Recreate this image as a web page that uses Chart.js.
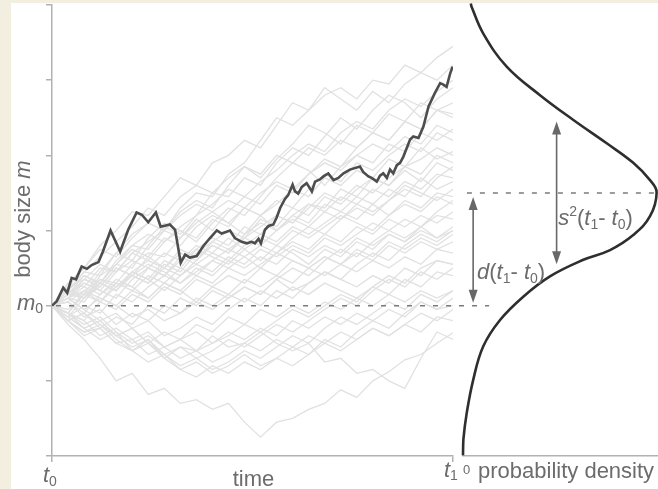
<!DOCTYPE html>
<html>
<head>
<meta charset="utf-8">
<script src="https://cdn.jsdelivr.net/npm/chart.js@4.4.1/dist/chart.umd.min.js"></script>
<style>
  html, body { margin: 0; padding: 0; background: #fff; }
  #wrap { position: relative; width: 658px; height: 489px; background: #fff; overflow: hidden; }
  #stripLeft { position: absolute; left: 0; top: 0; width: 11px; height: 489px; background: #f2efe1; }
  #stripTop { position: absolute; left: 0; top: 0; width: 658px; height: 3px; background: #f2efe1; }
  canvas { position: absolute; left: 0; top: 0; }
</style>
</head>
<body>
<div id="wrap">
  <div id="stripLeft"></div>
  <div id="stripTop"></div>
  <canvas id="paths" width="658" height="489"></canvas>
  <canvas id="density" width="658" height="489"></canvas>
</div>
<script>
// time grid for the simulated lineages (t0 = 0, t1 = 100)
const timeSteps = [0,4,8,12,16,20,24,28,32,36,40,44,48,52,56,60,64,68,72,76,80,84,88,92,96,100];

// the highlighted lineage
const focalTime = [0,1.2,2.8,3.8,4.9,6.0,7.4,8.7,9.9,11.6,12.7,14.6,17.0,19.0,21.1,22.4,24.0,25.9,27.1,29.4,30.7,32.1,33.2,34.4,36.1,37.7,39.4,41.1,42.3,44.4,45.6,47.3,48.6,49.8,50.6,51.5,52.1,53.1,54.0,55.2,56.0,56.9,58.1,58.9,60.0,60.6,61.4,62.3,63.5,64.8,65.6,66.8,67.7,68.9,70.2,71.4,72.7,74.3,76.8,77.6,78.9,79.7,81.0,81.8,82.6,83.5,84.3,85.1,86.0,86.8,87.6,89.3,90.1,91.4,92.6,93.9,95.5,96.8,97.6,98.4,99.3,99.9];
const focalSize = [0,0.06,0.24,0.17,0.37,0.35,0.52,0.49,0.54,0.58,0.72,1.00,0.72,1.01,1.24,1.21,1.11,1.24,1.05,1.08,1.01,0.57,0.68,0.64,0.66,0.79,0.90,1.00,0.96,1.00,0.90,0.85,0.83,0.85,0.83,0.89,0.83,1.01,1.06,1.08,1.17,1.30,1.42,1.47,1.61,1.52,1.49,1.58,1.63,1.52,1.65,1.68,1.72,1.76,1.67,1.70,1.76,1.81,1.85,1.78,1.72,1.70,1.65,1.73,1.76,1.70,1.81,1.76,1.87,1.90,1.98,2.21,2.25,2.23,2.38,2.65,2.83,2.96,2.94,2.91,3.09,3.18];

// the other lineages (body size at each time step)
const lineage01 = [0,0.3,0.5,0.8,1.0,1.25,1.2,1.45,1.7,1.6,1.9,2.0,2.2,2.1,2.4,2.7,2.6,2.8,2.9,2.75,3.0,2.95,3.2,3.1,3.3,3.45];
const lineage02 = [0,0.2,0.45,0.4,0.7,0.95,1.1,1.0,1.3,1.5,1.45,1.75,1.9,2.2,2.5,2.4,2.6,2.9,2.75,2.6,2.85,2.7,2.95,3.1,3.0,3.2];
const lineage03 = [0,0.15,0.1,0.4,0.55,0.5,0.8,1.05,0.95,1.2,1.5,1.45,1.7,1.6,1.9,2.1,2.0,2.25,2.5,2.35,2.6,2.8,2.7,2.5,2.75,2.9];
const lineage04 = [0,0.25,0.35,0.3,0.6,0.8,0.75,1.0,1.25,1.4,1.3,1.6,1.85,1.7,1.95,2.15,2.4,2.3,2.15,2.4,2.3,2.55,2.45,2.7,2.6,2.7];
const lineage05 = [0,-0.1,0.2,0.35,0.3,0.55,0.7,0.65,0.9,1.15,1.0,1.25,1.45,1.35,1.6,1.5,1.75,1.95,1.85,2.1,2.3,2.2,2.45,2.35,2.6,2.5];
const lineage06 = [0,0.2,0.15,0.45,0.7,0.6,0.9,1.1,1.0,0.85,1.1,1.3,1.2,1.45,1.7,1.9,1.8,1.6,1.85,2.0,1.9,2.15,2.05,2.3,2.2,2.35];
const lineage07 = [0,0.1,0.35,0.25,0.5,0.4,0.65,0.9,0.8,1.05,1.2,1.1,0.95,1.2,1.4,1.3,1.55,1.75,1.65,1.9,1.8,2.0,2.15,2.05,2.3,2.2];
const lineage08 = [0,0.3,0.25,0.5,0.45,0.7,0.6,0.85,1.0,0.9,1.15,1.05,1.3,1.2,1.35,1.55,1.45,1.7,1.6,1.8,1.7,1.95,1.85,2.1,1.95,2.05];
const lineage09 = [0,-0.15,0.1,0.3,0.2,0.45,0.35,0.6,0.5,0.75,0.9,0.8,1.05,0.95,1.2,1.1,1.35,1.3,1.55,1.45,1.7,1.6,1.85,1.75,2.0,1.9];
const lineage10 = [0,0.15,0.4,0.3,0.55,0.75,0.65,0.5,0.7,0.6,0.85,1.0,0.9,1.15,1.05,1.3,1.2,1.45,1.35,1.55,1.7,1.6,1.8,1.65,1.9,1.8];
const lineage11 = [0,0.1,0.05,0.3,0.2,0.45,0.6,0.5,0.75,0.65,0.8,0.7,0.95,1.1,1.0,1.2,1.1,1.35,1.25,1.45,1.35,1.55,1.45,1.7,1.55,1.65];
const lineage12 = [0,0.2,0.1,0.25,0.5,0.4,0.3,0.55,0.45,0.7,0.85,0.75,0.9,0.8,1.0,1.15,1.05,1.25,1.15,1.35,1.25,1.4,1.6,1.5,1.4,1.55];
const lineage13 = [0,-0.1,0.15,0.05,0.3,0.25,0.5,0.4,0.65,0.55,0.7,0.6,0.8,0.95,0.85,1.05,0.95,1.1,1.25,1.15,1.35,1.2,1.4,1.3,1.5,1.45];
const lineage14 = [0,0.15,0.3,0.2,0.1,0.35,0.5,0.4,0.6,0.75,0.65,0.55,0.75,0.9,0.8,1.0,0.9,1.05,1.2,1.1,1.0,1.2,1.35,1.25,1.45,1.35];
const lineage15 = [0,0.05,-0.1,0.15,0.3,0.2,0.4,0.3,0.5,0.4,0.6,0.75,0.65,0.5,0.7,0.85,0.75,0.95,0.85,1.05,0.95,1.15,1.05,1.2,1.1,1.25];
const lineage16 = [0,0.2,0.1,0.35,0.25,0.45,0.35,0.2,0.4,0.55,0.45,0.65,0.55,0.75,0.65,0.8,0.7,0.9,0.8,0.95,1.1,1.0,0.9,1.05,1.2,1.15];
const lineage17 = [0,-0.15,0.0,-0.1,0.15,0.05,0.25,0.4,0.3,0.5,0.4,0.6,0.5,0.65,0.55,0.75,0.65,0.8,0.7,0.9,0.8,0.95,0.85,1.0,0.9,1.05];
const lineage18 = [0,0.1,0.25,0.15,0.35,0.25,0.1,0.3,0.2,0.4,0.3,0.5,0.4,0.55,0.7,0.6,0.5,0.65,0.55,0.75,0.65,0.85,0.75,0.9,0.8,0.95];
const lineage19 = [0,-0.1,-0.2,0.05,-0.05,0.15,0.05,0.25,0.15,0.35,0.25,0.4,0.3,0.5,0.4,0.6,0.5,0.65,0.55,0.7,0.6,0.8,0.7,0.85,0.75,0.85];
const lineage20 = [0,0.1,-0.05,0.1,0.0,0.2,0.1,0.3,0.2,0.05,0.25,0.15,0.35,0.25,0.4,0.3,0.5,0.4,0.55,0.45,0.6,0.5,0.65,0.55,0.75,0.7];
const lineage21 = [0,-0.2,-0.1,-0.3,-0.15,-0.25,0.0,-0.1,0.1,0.0,0.2,0.1,0.25,0.15,0.35,0.2,0.3,0.45,0.35,0.25,0.4,0.3,0.5,0.4,0.6,0.55];
const lineage22 = [0,0.05,-0.15,-0.05,-0.25,-0.1,-0.2,0.0,-0.1,0.1,0.0,0.15,0.05,0.2,0.1,0.25,0.15,0.3,0.2,0.1,0.25,0.15,0.35,0.25,0.45,0.4];
const lineage23 = [0,-0.15,-0.3,-0.2,-0.4,-0.3,-0.5,-0.35,-0.45,-0.25,-0.35,-0.15,-0.25,-0.05,-0.15,0.0,-0.1,0.05,-0.05,0.1,0.0,0.15,0.05,0.2,0.1,0.2];
const lineage24 = [0,-0.1,-0.25,-0.15,-0.35,-0.5,-0.4,-0.55,-0.45,-0.6,-0.5,-0.35,-0.45,-0.3,-0.4,-0.2,-0.3,-0.15,-0.25,-0.1,-0.2,-0.05,-0.15,0.05,-0.05,0.0];
const lineage25 = [0,-0.2,-0.35,-0.3,-0.5,-0.45,-0.65,-0.55,-0.7,-0.6,-0.75,-0.65,-0.5,-0.6,-0.45,-0.55,-0.4,-0.5,-0.35,-0.45,-0.3,-0.4,-0.25,-0.35,-0.15,-0.2];
const lineage26 = [0,-0.2,-0.4,-0.3,-0.5,-0.6,-0.45,-0.7,-0.55,-0.6,-0.4,-0.55,-0.5,-0.35,-0.5,-0.6,-0.5,-0.75,-0.7,-0.9,-0.85,-1.0,-1.1,-0.7,-0.35,-0.45];
const lineage27 = [0,-0.25,-0.45,-0.7,-1.0,-0.9,-1.18,-1.1,-1.3,-1.25,-1.38,-1.3,-1.55,-1.75,-1.55,-1.5,-1.38,-1.3,-1.12,-1.22,-1.0,-0.88,-0.72,-0.65,-0.5,-0.36];
const lineage28 = [0,0.25,0.5,0.75,0.65,0.9,1.1,1.0,1.2,1.35,1.25,1.1,1.3,1.2,1.0,1.2,1.35,1.25,1.45,1.35,1.55,1.45,1.65,1.55,1.75,1.7];
const lineage29 = [0,0.2,0.45,0.65,0.85,1.05,1.3,1.2,1.45,1.6,1.5,1.7,1.85,1.75,2.0,1.9,2.1,2.0,2.2,2.1,2.3,2.2,2.45,2.35,2.6,2.55];
const lineage30 = [0,0.1,0.3,0.2,0.45,0.6,0.5,0.7,0.6,0.8,0.7,0.9,0.75,0.6,0.8,0.7,0.55,0.75,0.65,0.85,0.75,0.95,0.85,1.05,0.9,1.0];
const lineage31 = [0,-0.1,-0.3,-0.2,-0.4,-0.55,-0.45,-0.65,-0.8,-0.7,-0.85,-0.75,-0.6,-0.7,-0.55,-0.4,-0.5,-0.3,-0.15,-0.25,-0.1,0.05,-0.05,0.15,0.05,0.2];
const lineage32 = [0,-0.15,-0.3,-0.45,-0.35,-0.6,-0.5,-0.7,-0.85,-0.75,-0.9,-0.8,-0.65,-0.8,-0.7,-0.55,-0.65,-0.45,-0.55,-0.35,-0.2,-0.3,-0.1,0.05,-0.05,0.1];
const lineage33 = [0,-0.1,-0.2,-0.4,-0.3,-0.45,-0.35,-0.55,-0.45,-0.35,-0.5,-0.4,-0.25,-0.35,-0.2,-0.05,-0.15,0.0,0.15,0.05,0.25,0.4,0.3,0.5,0.6,0.55];
const lineage34 = [0,0.1,-0.05,-0.2,-0.1,-0.3,-0.2,-0.4,-0.3,-0.15,-0.25,-0.05,0.1,0.0,0.2,0.1,0.3,0.45,0.35,0.55,0.7,0.6,0.8,0.95,0.85,1.0];
const lineage35 = [0,-0.2,-0.1,-0.25,-0.4,-0.3,-0.5,-0.65,-0.55,-0.7,-0.6,-0.45,-0.55,-0.4,-0.25,-0.35,-0.2,-0.05,0.1,0.0,0.2,0.35,0.25,0.45,0.35,0.5];
const lineage36 = [0,0.05,0.2,0.1,0.0,-0.15,-0.05,-0.2,-0.1,0.05,-0.05,0.1,0.25,0.15,0.35,0.5,0.4,0.6,0.75,0.65,0.85,1.0,1.15,1.05,1.25,1.4];
const lineage37 = [0,0.15,0.35,0.55,0.45,0.7,0.85,1.0,0.9,1.1,1.25,1.4,1.3,1.5,1.65,1.55,1.75,1.9,1.8,2.0,2.15,2.05,2.25,2.15,2.4,2.3];
const lineage38 = [0,0.2,0.4,0.3,0.55,0.8,0.95,0.85,1.05,1.2,1.35,1.55,1.45,1.65,1.8,2.0,2.15,2.05,2.3,2.45,2.35,2.6,2.75,2.65,2.85,3.0];
const lineage39 = [0,-0.05,0.15,0.3,0.2,0.4,0.55,0.45,0.3,0.45,0.6,0.5,0.65,0.8,0.7,0.9,1.05,0.95,1.15,1.3,1.2,1.4,1.55,1.45,1.7,1.85];
const lineage40 = [0,-0.2,-0.35,-0.25,-0.45,-0.6,-0.75,-0.65,-0.85,-0.95,-0.8,-0.9,-0.75,-0.85,-0.7,-0.8,-0.65,-0.5,-0.6,-0.45,-0.3,-0.4,-0.25,-0.1,-0.2,-0.05];
const lineage41 = [0,0.1,0.2,0.05,0.25,0.4,0.3,0.5,0.4,0.6,0.8,0.7,0.9,1.05,1.2,1.1,1.3,1.5,1.4,1.6,1.5,1.7,1.85,1.95,2.1,2.0];

const lineages = [lineage01,lineage02,lineage03,lineage04,lineage05,lineage06,lineage07,lineage08,
  lineage09,lineage10,lineage11,lineage12,lineage13,lineage14,lineage15,lineage16,lineage17,lineage18,
  lineage19,lineage20,lineage21,lineage22,lineage23,lineage24,lineage25,lineage26,lineage27,lineage28,
  lineage29,lineage30,lineage31,lineage32,lineage33,lineage34,lineage35,lineage36,lineage37,lineage38,
  lineage39,lineage40,lineage41];

// probability density of body size at t1
const densityValue = [0.000,0.002,0.019,0.053,0.104,0.190,0.309,0.446,0.617,0.754,0.873,0.959,0.993,0.959,0.873,0.737,0.566,0.395,0.224,0.104,0.045,0.040];
const densitySize  = [-1.99,-1.78,-1.43,-0.98,-0.54,-0.19,0.12,0.39,0.61,0.74,0.94,1.19,1.51,1.67,1.90,2.16,2.47,2.80,3.18,3.62,3.97,4.02];

// reference values: ancestral size, expected size at t1, and its spread
const ancestralSize = 0;
const expectedSize = 1.5;
const sizeSpread = 0.95;

// y-axis range and tick values
const sizeTicks = [-2,-1,0,1,2,3,4];
const timeTicks = [0,100];

const FONT = '"Liberation Sans", Arial, Helvetica, sans-serif';
const TEXT = '#6c6c6c';
const AXIS = '#b2b2b2';

function fontOf(p) { return (p.italic ? 'italic ' : '') + (p.size || 22) + 'px ' + FONT; }
function richWidth(ctx, parts) {
  let w = 0;
  for (const p of parts) { ctx.font = fontOf(p); w += ctx.measureText(p.t).width + (p.gap || 0); }
  return w;
}
function drawRich(ctx, parts, x, y, align) {
  const w = richWidth(ctx, parts);
  let cx = align === 'center' ? x - w / 2 : (align === 'right' ? x - w : x);
  ctx.textAlign = 'left';
  ctx.textBaseline = 'alphabetic';
  for (const p of parts) {
    ctx.font = fontOf(p);
    ctx.fillText(p.t, cx, y + (p.dy || 0));
    cx += ctx.measureText(p.t).width + (p.gap || 0);
  }
}
function arrowHead(ctx, x, y, dir) {
  ctx.beginPath();
  ctx.moveTo(x, y);
  ctx.lineTo(x - 4.5, y - dir * 13);
  ctx.lineTo(x + 4.5, y - dir * 13);
  ctx.closePath();
  ctx.fill();
}
function doubleArrow(ctx, x, yTop, yBottom) {
  ctx.beginPath();
  ctx.moveTo(x, yTop + 8);
  ctx.lineTo(x, yBottom - 8);
  ctx.stroke();
  arrowHead(ctx, x, yTop, -1);
  arrowHead(ctx, x, yBottom, 1);
}

// labels and reference line of the lineage panel
const pathDecor = {
  id: 'pathDecor',
  afterDatasetsDraw(chart) {
    const { ctx, scales: { x, y } } = chart;
    ctx.save();
    // ancestral size line
    ctx.strokeStyle = '#7c7c7c';
    ctx.lineWidth = 1.5;
    ctx.setLineDash([5, 8]);
    ctx.beginPath();
    ctx.moveTo(x.getPixelForValue(1), y.getPixelForValue(ancestralSize));
    ctx.lineTo(x.getPixelForValue(109), y.getPixelForValue(ancestralSize));
    ctx.stroke();
    ctx.setLineDash([]);

    ctx.fillStyle = TEXT;
    const base = chart.chartArea.bottom;
    drawRich(ctx, [{ t: 't', italic: true }, { t: '0', size: 14, dy: 4 }], x.getPixelForValue(0) - 9, base + 26, 'left');
    drawRich(ctx, [{ t: 'time' }], (x.left + x.right) / 2 + 1, base + 30, 'center');
    drawRich(ctx, [{ t: 't', italic: true }, { t: '1', size: 14, dy: 3 }], x.getPixelForValue(100) - 9, base + 21, 'left');
    drawRich(ctx, [{ t: 'm', italic: true }, { t: '0', size: 14, dy: 3 }], 17, y.getPixelForValue(ancestralSize) + 4, 'left');

    // rotated y-axis title
    ctx.save();
    ctx.translate(29.5, 219);
    ctx.rotate(-Math.PI / 2);
    drawRich(ctx, [{ t: 'body size ' }, { t: 'm', italic: true }], 0, 0, 'center');
    ctx.restore();
    ctx.restore();
  }
};

// reference lines, arrows and labels of the density panel
const densityDecor = {
  id: 'densityDecor',
  afterDatasetsDraw(chart) {
    const { ctx, scales: { x, y } } = chart;
    ctx.save();
    const yMean = y.getPixelForValue(expectedSize);
    const yAnc = y.getPixelForValue(ancestralSize);
    ctx.strokeStyle = '#7c7c7c';
    ctx.lineWidth = 1.5;
    ctx.setLineDash([5, 8]);
    ctx.beginPath();
    ctx.moveTo(x.getPixelForValue(0.02), yMean);
    ctx.lineTo(x.getPixelForValue(1.0), yMean);
    ctx.stroke();
    ctx.setLineDash([]);

    ctx.strokeStyle = '#686868';
    ctx.fillStyle = '#686868';
    ctx.lineWidth = 1.6;
    doubleArrow(ctx, x.getPixelForValue(0.052), yMean + 4, yAnc - 3);
    doubleArrow(ctx, x.getPixelForValue(0.48), y.getPixelForValue(expectedSize + sizeSpread), y.getPixelForValue(expectedSize - sizeSpread));

    ctx.fillStyle = TEXT;
    drawRich(ctx, [
      { t: 'd', italic: true }, { t: '(' }, { t: 't', italic: true }, { t: '1', size: 14, dy: 4 },
      { t: '- ' }, { t: 't', italic: true }, { t: '0', size: 14, dy: 4 }, { t: ')' }
    ], x.getPixelForValue(0.072), 279, 'left');
    drawRich(ctx, [
      { t: 's', italic: true }, { t: '2', size: 14, dy: -9 }, { t: '(' }, { t: 't', italic: true }, { t: '1', size: 14, dy: 4 },
      { t: '- ' }, { t: 't', italic: true }, { t: '0', size: 14, dy: 4 }, { t: ')' }
    ], x.getPixelForValue(0.488), 225, 'left');

    const base = chart.chartArea.bottom;
    drawRich(ctx, [{ t: '0', size: 13 }], x.getPixelForValue(0) + 3.5, base + 18, 'center');
    drawRich(ctx, [{ t: 'probability density' }], x.getPixelForValue(0) + 15, base + 22, 'left');
    ctx.restore();
  }
};

const pathDatasets = [{
  data: focalTime.map((t, i) => ({ x: t, y: focalSize[i] })),
  borderColor: '#4d4d4d',
  borderWidth: 2.6,
  pointRadius: 0,
  tension: 0
}].concat(lineages.map(v => ({
  data: timeSteps.map((t, i) => ({ x: t, y: v[i] })),
  borderColor: '#e1e1e1',
  borderWidth: 1.3,
  pointRadius: 0,
  tension: 0
})));

new Chart(document.getElementById('paths'), {
  type: 'line',
  data: { datasets: pathDatasets },
  options: {
    responsive: false,
    animation: false,
    events: [],
    layout: { padding: { left: 0, right: 205, top: 5, bottom: 0 } },
    plugins: { legend: { display: false }, tooltip: { enabled: false } },
    scales: {
      x: {
        type: 'linear', min: 0, max: 100,
        afterBuildTicks: s => { s.ticks = timeTicks.map(v => ({ value: v })); },
        afterFit: s => { s.height = 33; },
        ticks: { display: false },
        grid: { drawOnChartArea: false, drawTicks: true, tickLength: 6, color: AXIS, lineWidth: 1.5 },
        border: { display: true, color: AXIS, width: 1.5 }
      },
      y: {
        type: 'linear', min: -2, max: 4,
        afterBuildTicks: s => { s.ticks = sizeTicks.map(v => ({ value: v })); },
        afterFit: s => { s.width = 52; },
        ticks: { display: false },
        grid: { drawOnChartArea: false, drawTicks: true, tickLength: 6, color: AXIS, lineWidth: 1.5 },
        border: { display: true, color: AXIS, width: 1.5 }
      }
    }
  },
  plugins: [pathDecor]
});

new Chart(document.getElementById('density'), {
  type: 'line',
  data: {
    datasets: [{
      data: densityValue.map((d, i) => ({ x: d, y: densitySize[i] })),
      borderColor: '#2e2e2e',
      borderWidth: 2.6,
      pointRadius: 0,
      tension: 0.4,
      clip: false
    }]
  },
  options: {
    responsive: false,
    animation: false,
    events: [],
    layout: { padding: { left: 463, right: 0, top: 5, bottom: 0 } },
    plugins: { legend: { display: false }, tooltip: { enabled: false } },
    scales: {
      x: {
        type: 'linear', min: 0, max: 1,
        afterFit: s => { s.height = 33; },
        ticks: { display: false },
        grid: { display: false },
        border: { display: true, color: AXIS, width: 1.5 }
      },
      y: { type: 'linear', min: -2, max: 4, display: false }
    }
  },
  plugins: [densityDecor]
});
</script>
</body>
</html>
